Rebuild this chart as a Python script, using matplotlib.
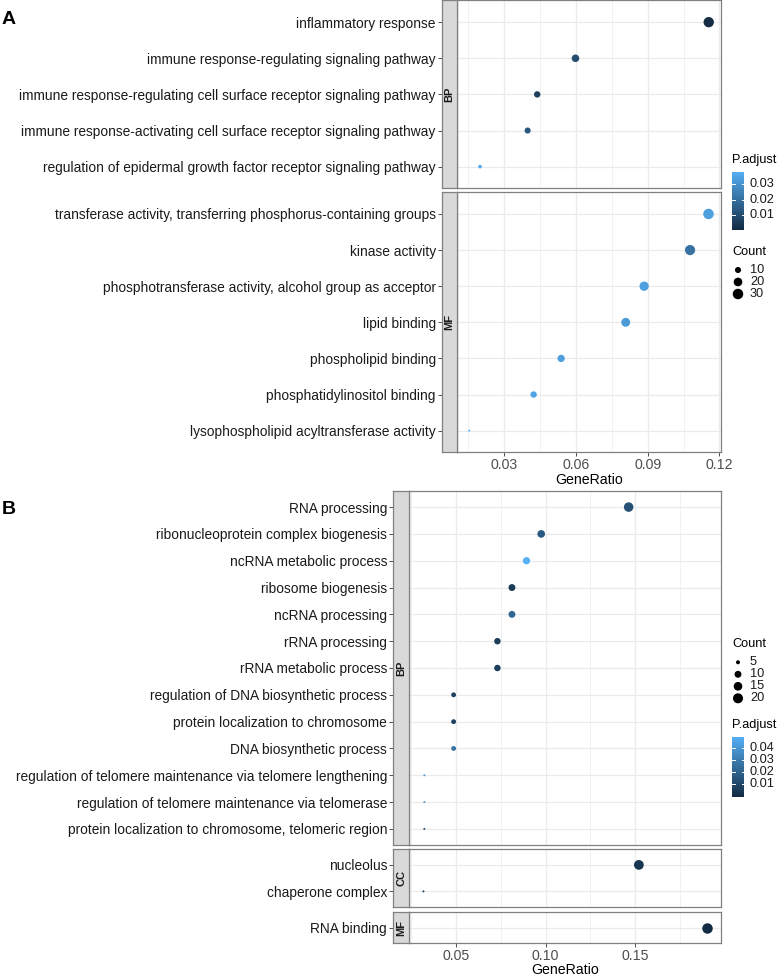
import matplotlib
matplotlib.use('Agg')
import matplotlib.pyplot as plt
import numpy as np
from matplotlib.colors import LinearSegmentedColormap, Normalize

plt.rcParams['font.family'] = ['Liberation Sans', 'DejaVu Sans']

# ---- panel A data (top to bottom) ----
A_BP_terms = ['inflammatory response',
              'immune response-regulating signaling pathway',
              'immune response-regulating cell surface receptor signaling pathway',
              'immune response-activating cell surface receptor signaling pathway',
              'regulation of epidermal growth factor receptor signaling pathway']
A_BP_ratio = [0.1155, 0.0598, 0.0438, 0.0398, 0.0199]
A_BP_count = [29, 15, 11, 10, 5]
A_BP_padj = [0.0003, 0.0095, 0.0060, 0.0120, 0.0360]

A_MF_terms = ['transferase activity, transferring phosphorus-containing groups',
              'kinase activity',
              'phosphotransferase activity, alcohol group as acceptor',
              'lipid binding',
              'phospholipid binding',
              'phosphatidylinositol binding',
              'lysophospholipid acyltransferase activity']
A_MF_ratio = [0.1154, 0.1077, 0.0885, 0.0808, 0.0538, 0.0423, 0.0154]
A_MF_count = [30, 28, 23, 21, 14, 11, 4]
A_MF_padj = [0.0330, 0.0200, 0.0330, 0.0320, 0.0330, 0.0340, 0.0383]

# ---- panel B data ----
B_BP_terms = ['RNA processing',
              'ribonucleoprotein complex biogenesis',
              'ncRNA metabolic process',
              'ribosome biogenesis',
              'ncRNA processing',
              'rRNA processing',
              'rRNA metabolic process',
              'regulation of DNA biosynthetic process',
              'protein localization to chromosome',
              'DNA biosynthetic process',
              'regulation of telomere maintenance via telomere lengthening',
              'regulation of telomere maintenance via telomerase',
              'protein localization to chromosome, telomeric region']
B_BP_ratio = [0.1463, 0.0976, 0.0894, 0.0813, 0.0813, 0.0732, 0.0732,
              0.0488, 0.0488, 0.0488, 0.0325, 0.0325, 0.0325]
B_BP_count = [18, 12, 11, 10, 10, 9, 9, 6, 6, 6, 4, 4, 4]
B_BP_padj = [0.013, 0.017, 0.0488, 0.006, 0.022, 0.007, 0.007,
             0.008, 0.008, 0.026, 0.040, 0.040, 0.012]

B_CC_terms = ['nucleolus', 'chaperone complex']
B_CC_ratio = [0.152, 0.032]
B_CC_count = [19, 4]
B_CC_padj = [0.004, 0.007]

B_MF_terms = ['RNA binding']
B_MF_ratio = [0.1897]
B_MF_count = [22]
B_MF_padj = [0.0002]

A_xticks = [0.03, 0.06, 0.09, 0.12]
B_xticks = [0.05, 0.10, 0.15]
A_size_breaks = [10, 20, 30]
B_size_breaks = [5, 10, 15, 20]
A_padj_ticks = [0.01, 0.02, 0.03]
B_padj_ticks = [0.01, 0.02, 0.03, 0.04]

W, H = 778, 976
fig = plt.figure(figsize=(W / 100, H / 100), dpi=100)
cmap = LinearSegmentedColormap.from_list('padj', ['#132B43', '#56B1F7'])
GRID = '#EBEBEB'
BORDER = '#808080'
LEG_FS = 9.2


def add_ax(x0, y0, x1, y1):
    return fig.add_axes([x0 / W, 1 - y1 / H, (x1 - x0) / W, (y1 - y0) / H])


def dot_px(c, cmin, cmax, dmin=2.0, dmax=10.5):
    # ggplot-like area scale: sqrt of the rescaled value
    r = np.sqrt((np.asarray(c, float) - cmin) / (cmax - cmin))
    return dmin + r * (dmax - dmin)


def expand(vals):
    lo, hi = min(vals), max(vals)
    e = (hi - lo) * 0.05
    return lo - e, hi + e


def facet(x0, x1, y0, y1, sw, name, terms, ratio, count, padj,
          xlim, norm, crange, xticks, show_x):
    n = len(terms)
    ax = add_ax(x0 + sw, y0, x1, y1)
    ax.set_xlim(xlim)
    ax.set_ylim(n - 1 + 0.6, -0.6)
    step = xticks[1] - xticks[0]
    minor = [t - step / 2 for t in xticks] + [xticks[-1] + step / 2]
    for v in minor:
        ax.axvline(v, color=GRID, lw=0.5, zorder=0)
    for v in xticks:
        ax.axvline(v, color=GRID, lw=0.9, zorder=0)
    for i in range(n):
        ax.axhline(i, color=GRID, lw=0.9, zorder=0)
    d = dot_px(count, *crange)
    ax.scatter(ratio, np.arange(n), s=(d * 0.72) ** 2, c=padj, cmap=cmap,
               norm=norm, linewidths=0, zorder=3)
    ax.set_yticks([])
    for s in ax.spines.values():
        s.set_color(BORDER)
        s.set_linewidth(0.9)
    if show_x:
        ax.set_xticks(xticks)
        ax.set_xticklabels(['%.2f' % t for t in xticks], fontsize=10.2, color='#4D4D4D')
        ax.tick_params(axis='x', length=3, width=0.6, color='#333333', pad=1)
    else:
        ax.set_xticks([])
    st = add_ax(x0, y0, x0 + sw, y1)
    st.set_facecolor('#D9D9D9')
    st.set_ylim(n - 1 + 0.6, -0.6)
    st.set_xlim(0, 1)
    st.set_xticks([])
    st.set_yticks(np.arange(n))
    st.set_yticklabels(terms, fontsize=9.9, color='#1A1A1A')
    st.tick_params(axis='y', length=3, width=0.6, color='#333333', pad=1.5)
    for s in st.spines.values():
        s.set_color(BORDER)
        s.set_linewidth(0.9)
    st.text(0.5, 0.5, name, rotation=90, ha='center', va='center',
            fontsize=8, weight='bold', color='#1A1A1A', transform=st.transAxes)


def colorbar(x0, y0, x1, y1, vmin, vmax, ticks):
    cax = add_ax(x0, y0, x1, y1)
    grad = np.linspace(vmin, vmax, 256).reshape(-1, 1)
    cax.imshow(grad, cmap=cmap, norm=Normalize(vmin, vmax), aspect='auto',
               origin='lower', extent=[0, 1, vmin, vmax])
    cax.set_xlim(0, 1)
    cax.set_ylim(vmin, vmax)
    cax.axis('off')
    tr = cax.get_yaxis_transform()
    for t in ticks:
        cax.plot([0, 0.2], [t, t], color='white', lw=0.7)
        cax.plot([0.8, 1], [t, t], color='white', lw=0.7)
        cax.text(1.5, t, '%.2f' % t, transform=tr, ha='left', va='center',
                 fontsize=LEG_FS, color='#1A1A1A', clip_on=False)


overlay = add_ax(0, 0, W, H)
overlay.set_xlim(0, W)
overlay.set_ylim(H, 0)
overlay.axis('off')
overlay.patch.set_alpha(0)

# ---------------- panel A ----------------
A_all_ratio = A_BP_ratio + A_MF_ratio
A_all_count = A_BP_count + A_MF_count
A_all_padj = A_BP_padj + A_MF_padj
A_xlim = expand(A_all_ratio)
A_norm = Normalize(0.0, max(A_all_padj))
A_crange = (min(A_all_count), max(A_all_count))
facet(442, 720.7, 0.5, 188.3, 15.3, 'BP', A_BP_terms, A_BP_ratio, A_BP_count,
      A_BP_padj, A_xlim, A_norm, A_crange, A_xticks, False)
facet(442, 720.7, 192.3, 452.3, 15.3, 'MF', A_MF_terms, A_MF_ratio, A_MF_count,
      A_MF_padj, A_xlim, A_norm, A_crange, A_xticks, True)
fig.text(589 / W, 1 - 480 / H, 'GeneRatio', ha='center', va='center', fontsize=10.2)
fig.text(2 / W, 1 - 20 / H, 'A', ha='left', va='center', fontsize=14, weight='bold')

fig.text(732 / W, 1 - 160 / H, 'P.adjust', ha='left', va='center', fontsize=LEG_FS)
colorbar(732.3, 171.7, 744, 230, 0.0, max(A_all_padj), A_padj_ticks)
fig.text(732 / W, 1 - 252.3 / H, 'Count', ha='left', va='center', fontsize=LEG_FS)
A_leg_y = 270 + 12 * np.arange(len(A_size_breaks))
overlay.scatter([738] * len(A_size_breaks), A_leg_y,
                s=(dot_px(A_size_breaks, *A_crange) * 0.72) ** 2,
                color='black', linewidths=0)
for yy, b in zip(A_leg_y, A_size_breaks):
    overlay.text(750, yy, str(b), ha='left', va='center', fontsize=LEG_FS, color='#1A1A1A')

# ---------------- panel B ----------------
B_all_ratio = B_BP_ratio + B_CC_ratio + B_MF_ratio
B_all_count = B_BP_count + B_CC_count + B_MF_count
B_all_padj = B_BP_padj + B_CC_padj + B_MF_padj
B_xlim = expand(B_all_ratio)
B_norm = Normalize(0.0, max(B_all_padj))
B_crange = (min(B_all_count), max(B_all_count))
facet(393.3, 720.7, 491, 845, 16, 'BP', B_BP_terms, B_BP_ratio, B_BP_count,
      B_BP_padj, B_xlim, B_norm, B_crange, B_xticks, False)
facet(393.3, 720.7, 849, 907.3, 16, 'CC', B_CC_terms, B_CC_ratio, B_CC_count,
      B_CC_padj, B_xlim, B_norm, B_crange, B_xticks, False)
facet(393.3, 720.7, 911.7, 943.3, 16, 'MF', B_MF_terms, B_MF_ratio, B_MF_count,
      B_MF_padj, B_xlim, B_norm, B_crange, B_xticks, True)
fig.text(565 / W, 1 - 970.5 / H, 'GeneRatio', ha='center', va='center', fontsize=10.2)
fig.text(2 / W, 1 - 510 / H, 'B', ha='left', va='center', fontsize=14, weight='bold')

fig.text(732 / W, 1 - 644.3 / H, 'Count', ha='left', va='center', fontsize=LEG_FS)
B_leg_y = 662.3 + 12 * np.arange(len(B_size_breaks))
overlay.scatter([738] * len(B_size_breaks), B_leg_y,
                s=(dot_px(B_size_breaks, *B_crange) * 0.72) ** 2,
                color='black', linewidths=0)
for yy, b in zip(B_leg_y, B_size_breaks):
    overlay.text(750, yy, str(b), ha='left', va='center', fontsize=LEG_FS, color='#1A1A1A')
fig.text(732 / W, 1 - 725 / H, 'P.adjust', ha='left', va='center', fontsize=LEG_FS)
colorbar(732.3, 736.7, 744, 796.7, 0.0, max(B_all_padj), B_padj_ticks)

fig.savefig('out.png', dpi=100)
